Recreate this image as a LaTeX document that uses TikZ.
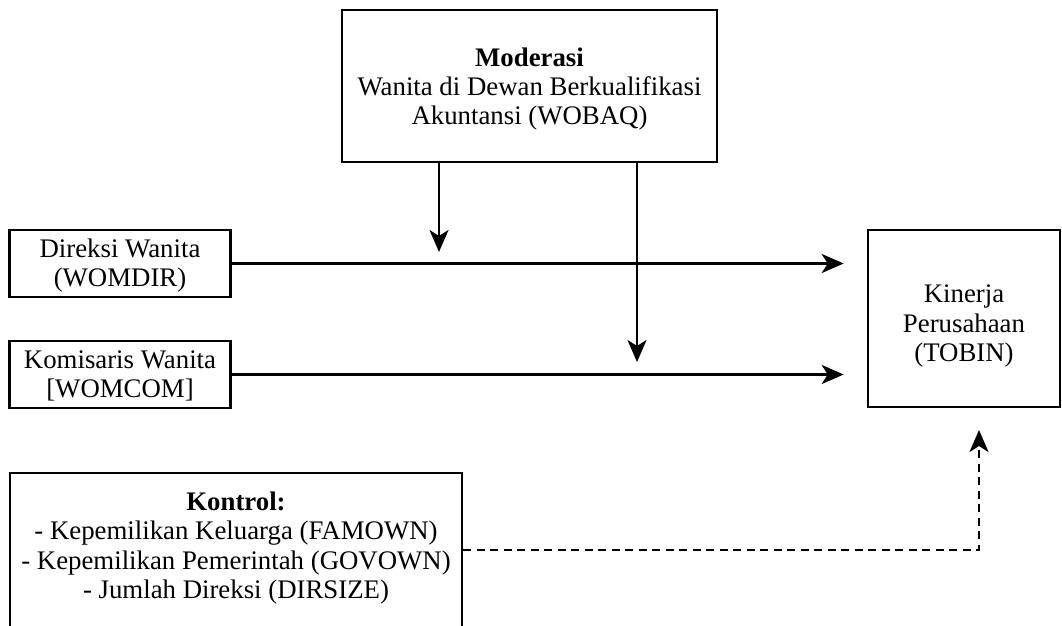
\documentclass[tikz,border=0pt]{standalone}
\usepackage{fontspec}
\setmainfont{Liberation Serif}
\usetikzlibrary{arrows.meta,calc}
\begin{document}
\begin{tikzpicture}[x=1pt,y=-1pt,
  box/.style={draw=black,line width=2.6pt,fill=white,inner sep=0pt,align=center,
    font=\fontsize{26.8}{29.2}\selectfont},
  txt/.style={inner sep=0pt,align=center,font=\fontsize{26.8}{29.2}\selectfont},
  arr/.style={line width=2.6pt,-{Stealth[length=22pt,width=19pt,inset=6pt]}},
  darr/.style={arr,dash pattern=on 8pt off 5.5pt}]
\clip (0,0) rectangle (1062,625);
\fill[white] (0,0) rectangle (1062,625);
% boxes
\node[box,minimum width=375pt,minimum height=152pt] (mod) at (529.5,86) {};
\node[txt] (modtxt) at (529.5,89) {\textbf{Moderasi}\\Wanita di Dewan Berkualifikasi\\Akuntansi (WOBAQ)};
\node[box,minimum width=221pt,minimum height=67pt] (dir) at (120,263.5) {};
\node[txt] (dirtxt) at (120,265.5) {Direksi Wanita\\(WOMDIR)};
\node[box,minimum width=221pt,minimum height=67pt] (kom) at (120,374.5) {};
\node[txt] (komtxt) at (120,376) {Komisaris Wanita\\{[WOMCOM]}};
\node[box,minimum width=192pt,minimum height=177pt] (kin) at (964,318.5) {};
\node[txt] (kintxt) at (964,326) {Kinerja\\Perusahaan\\(TOBIN)};
\node[box,minimum width=452pt,minimum height=154pt] (ctl) at (236,550) {};
\node[txt] (ctltxt) at (236,548) {\textbf{Kontrol:}\\- Kepemilikan Keluarga (FAMOWN)\\- Kepemilikan Pemerintah (GOVOWN)\\- Jumlah Direksi (DIRSIZE)};
% free ends
\coordinate (t1) at (439,252);
\coordinate (t2) at (637,362);
\coordinate (t3) at (979,430);
% connectors
\draw[arr] (dir.east) -- ([xshift=-23pt]dir.east -| kin.west);
\draw[arr] (kom.east) -- ([xshift=-23pt]kom.east -| kin.west);
\draw[arr] (mod.south -| t1) -- (t1);
\draw[arr] (mod.south -| t2) -- (t2);
\draw[darr] (ctl.east) -| (t3);
\end{tikzpicture}
\end{document}
